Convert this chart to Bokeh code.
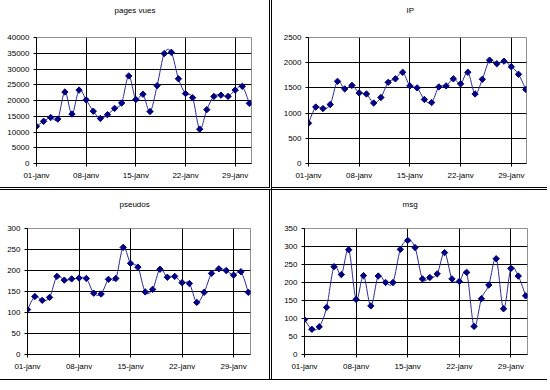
import math
from bokeh.plotting import figure
from bokeh.layouts import column, row
from bokeh.models import Range1d, FixedTicker
from bokeh.embed import file_html
from bokeh.resources import INLINE

days = list(range(1, 32))
tick_days = [1, 8, 15, 22, 29]
tick_labels = ["01-janv", "08-janv", "15-janv", "22-janv", "29-janv"]

pages_vues = [11800, 13400, 14600, 14100, 22700, 15700, 23300, 20200, 16600, 14300,
              15500, 17500, 19200, 27800, 20300, 22000, 16500, 24700, 34900, 35300,
              26900, 22200, 20900, 10900, 17100, 21300, 21700, 21300, 23300, 24500, 19100]
ip = [800, 1120, 1090, 1170, 1630, 1480, 1550, 1400, 1380, 1200,
      1310, 1610, 1680, 1810, 1540, 1500, 1270, 1210, 1520, 1540,
      1680, 1580, 1810, 1380, 1670, 2050, 1980, 2030, 1920, 1770, 1470]
pseudos = [107, 138, 129, 136, 186, 177, 180, 182, 181, 146,
           144, 179, 181, 255, 217, 208, 149, 155, 203, 184,
           186, 171, 169, 124, 148, 193, 204, 200, 189, 197, 148]
msg = [97, 70, 77, 131, 244, 222, 291, 153, 219, 135,
       218, 200, 200, 292, 317, 297, 210, 214, 224, 283,
       210, 203, 228, 78, 155, 193, 266, 127, 239, 218, 163]

FONT = "Liberation Sans"
LINE = "#2a2a9a"
MARK = "#000080"


def smooth_segments(xs, ys):
    n = len(xs)
    seg = dict(x0=[], y0=[], x1=[], y1=[], cx0=[], cy0=[], cx1=[], cy1=[])
    for i in range(n - 1):
        xm, ym = (xs[i - 1], ys[i - 1]) if i > 0 else (xs[i], ys[i])
        xp, yp = (xs[i + 2], ys[i + 2]) if i + 2 < n else (xs[i + 1], ys[i + 1])
        seg["x0"].append(xs[i]); seg["y0"].append(ys[i])
        seg["x1"].append(xs[i + 1]); seg["y1"].append(ys[i + 1])
        seg["cx0"].append(xs[i] + (xs[i + 1] - xm) / 6)
        seg["cy0"].append(ys[i] + (ys[i + 1] - ym) / 6)
        seg["cx1"].append(xs[i + 1] - (xp - xs[i]) / 6)
        seg["cy1"].append(ys[i + 1] - (yp - ys[i]) / 6)
    return seg


def make(title, values, ymax, ystep, width, height, mb, x_end, title_offset, title_pad, styles):
    left, right, top, bottom = mb
    p = figure(width=width, height=height, output_backend="svg", toolbar_location=None,
               x_range=Range1d(1, x_end), y_range=Range1d(0, ymax),
               min_border_left=left, min_border_right=right,
               min_border_top=top, min_border_bottom=bottom,
               background_fill_color="white", border_fill_color="white")
    p.title.text = title
    p.title.text_font = FONT
    p.title.text_font_size = "8px"
    p.title.text_font_style = "normal"
    p.title.text_color = "#000"
    p.title.align = "left"
    p.title.offset = title_offset
    p.title.vertical_align = "top"
    p.title.standoff = 10
    p.title.padding = dict(left=0, right=0, top=0, bottom=title_pad)
    p.outline_line_color = "#909090"
    p.outline_line_width = 1

    p.xaxis.ticker = FixedTicker(ticks=tick_days)
    p.xaxis.major_label_overrides = {d: l for d, l in zip(tick_days, tick_labels)}
    p.yaxis.ticker = FixedTicker(ticks=list(range(0, ymax + 1, ystep)))
    for ax in (p.xaxis[0], p.yaxis[0]):
        ax.axis_line_color = "#000"
        ax.major_tick_line_color = "#000"
        ax.major_tick_out = 3
        ax.major_tick_in = 0
        ax.minor_tick_line_color = None
        ax.major_label_text_font = FONT
        ax.major_label_text_font_size = "8px"
        ax.major_label_text_color = "#000"
    p.yaxis.major_label_standoff = 4
    p.xaxis.major_label_standoff = 4

    p.xgrid.ticker = FixedTicker(ticks=tick_days)
    p.ygrid.ticker = FixedTicker(ticks=list(range(0, ymax + 1, ystep)))
    p.grid.grid_line_color = "#000"
    p.grid.grid_line_width = 1

    seg = smooth_segments(days, values)
    p.bezier(x0=seg["x0"], y0=seg["y0"], x1=seg["x1"], y1=seg["y1"],
             cx0=seg["cx0"], cy0=seg["cy0"], cx1=seg["cx1"], cy1=seg["cy1"],
             line_color=LINE, line_width=1)
    p.scatter(days, values, marker="square", angle=math.pi / 4, size=4.5,
              fill_color=MARK, line_color=MARK)
    p.styles = styles
    return p


p1 = make("pages vues", pages_vues, 40000, 5000, 272, 190, (36, 21, 37, 27), 31.3, 78, 16,
          {"border-right": "3px double #000", "border-bottom": "3px double #000"})
p2 = make("IP", ip, 2500, 500, 275, 190, (36, 21, 37, 27), 31.1, 98, 16,
          {"border-bottom": "3px double #000"})
p3 = make("pseudos", pseudos, 300, 50, 272, 190, (27, 22, 38, 26), 31.3, 92, 13,
          {"border-right": "3px double #000", "border-bottom": "1px solid #000"})
p4 = make("msg", msg, 350, 50, 275, 190, (32, 20, 38, 26), 31.25, 98, 13,
          {"border-bottom": "1px solid #000"})

layout = column(row(p1, p2), row(p3, p4))

open("out.html", "w").write(file_html(layout, INLINE))
